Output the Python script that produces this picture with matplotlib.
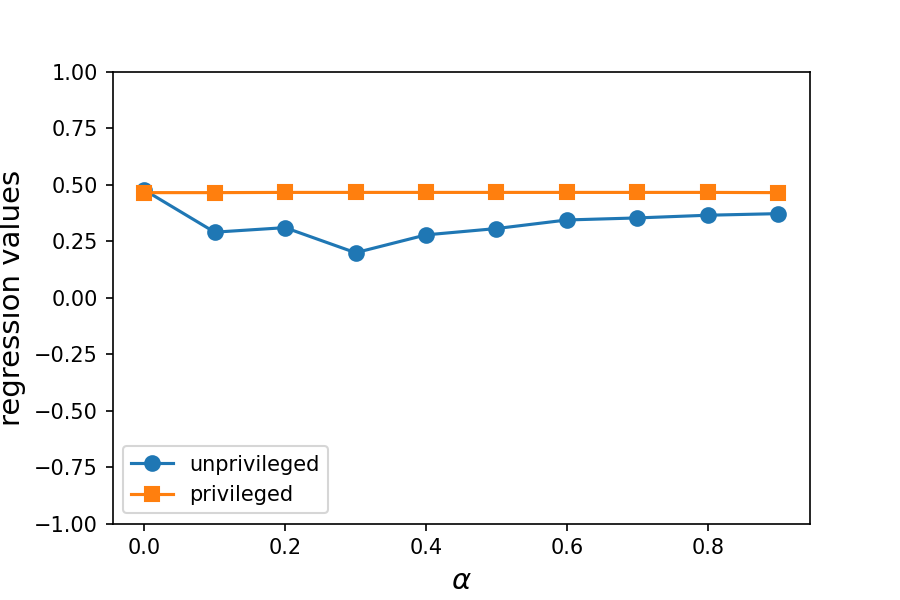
import matplotlib
matplotlib.use("Agg")
import matplotlib.pyplot as plt

alpha = [0.0, 0.1, 0.2, 0.3, 0.4, 0.5, 0.6, 0.7, 0.8, 0.9]
unprivileged = [0.478, 0.291, 0.311, 0.200, 0.279, 0.307, 0.345, 0.354, 0.366, 0.373]
privileged = [0.466, 0.466, 0.467, 0.467, 0.467, 0.467, 0.467, 0.467, 0.467, 0.466]

fig = plt.figure(figsize=(6, 4), dpi=150)
ax = fig.add_axes([0.125, 0.127, 0.775, 0.753])

ax.plot(alpha, unprivileged, '-o', markersize=7, label='unprivileged')
ax.plot(alpha, privileged, '-s', markersize=7, label='privileged')

ax.set_ylim(-1, 1)
ax.set_xlabel(r'$\alpha$', fontsize=14)
ax.set_ylabel('regression values', fontsize=14)
ax.legend(loc='lower left')

fig.savefig('out.png', dpi=150)
